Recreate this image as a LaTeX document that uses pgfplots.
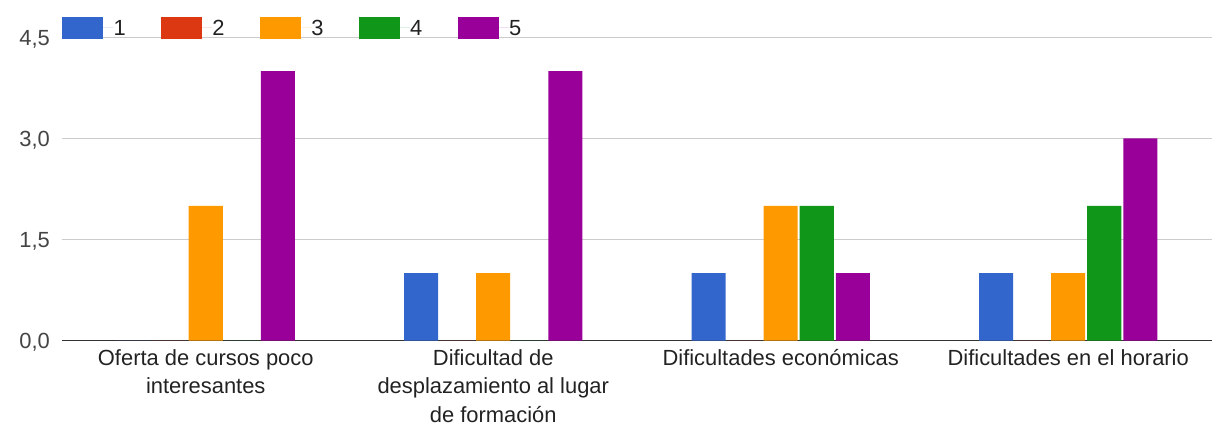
\documentclass[border=0pt]{standalone}
\usepackage{fontspec}
\setmainfont{Liberation Sans}
\usepackage{pgfplots}
\pgfplotsset{compat=1.18}
\definecolor{c1}{HTML}{3366CC}
\definecolor{c2}{HTML}{DC3912}
\definecolor{c3}{HTML}{FF9900}
\definecolor{c4}{HTML}{109618}
\definecolor{c5}{HTML}{990099}
\definecolor{ctext}{HTML}{222222}
\definecolor{ctick}{HTML}{444444}
\definecolor{cgrid}{HTML}{CCCCCC}
\definecolor{caxis}{HTML}{333333}
\begin{document}
\begin{tikzpicture}
\useasboundingbox (0,0) rectangle (1212bp,426bp);
\begin{axis}[
  at={(62bp,85.5bp)}, anchor=south west,
  scale only axis, width=1150bp, height=303bp,
  ybar=2bp, bar width=34bp,
  xmin=-0.5, xmax=3.5, ymin=0, ymax=4.5,
  xtick={0,1,2,3},
  xticklabels={{Oferta de cursos poco\\interesantes},{Dificultad de\\desplazamiento al lugar\\de formación},{Dificultades económicas},{Dificultades en el horario}},
  ytick={0,1.5,3,4.5},
  yticklabels={{0,0},{1,5},{3,0},{4,5}},
  xticklabel style={font=\fontsize{22}{29}\selectfont, align=center, text=ctext, inner sep=0pt, anchor=north, yshift=-8.5bp},
  yticklabel style={font=\fontsize{22}{29}\selectfont, text=ctick, inner sep=0pt, anchor=east, xshift=-12bp, text depth=0pt},
  major tick length=0pt,
  ymajorgrids, grid style={draw=cgrid, line width=1.3bp},
  axis line style={draw=none},
  extra y ticks={0}, extra y tick labels={},
  extra y tick style={grid style={draw=caxis, line width=1.4bp}},
  legend columns=5,
  legend cell align=left,
  legend style={draw=none, fill=none, inner sep=0pt, outer sep=0pt, column sep=0pt, row sep=0pt,
    at={(0,1)}, anchor=west, yshift=9.5bp, font=\fontsize{22}{29}\selectfont, text=ctext,
    nodes={inner sep=0pt, text height=15.8bp, text depth=0pt, anchor=west}},
  legend image code/.code={\path[#1] (0bp,-10.7bp) rectangle (41bp,10.7bp); \path (0bp,0bp) -- (51.5bp,0bp);},
]
\addplot[fill=c1, draw=none] coordinates {(0,0) (1,1) (2,1) (3,1)};
\addlegendentry{\makebox[47.4bp][l]{1}}
\addplot[fill=c2, draw=none] coordinates {(0,0) (1,0) (2,0) (3,0)};
\addlegendentry{\makebox[47.4bp][l]{2}}
\addplot[fill=c3, draw=none] coordinates {(0,2) (1,1) (2,2) (3,1)};
\addlegendentry{\makebox[47.4bp][l]{3}}
\addplot[fill=c4, draw=none] coordinates {(0,0) (1,0) (2,2) (3,2)};
\addlegendentry{\makebox[47.4bp][l]{4}}
\addplot[fill=c5, draw=none] coordinates {(0,4) (1,4) (2,1) (3,3)};
\addlegendentry{\makebox[47.4bp][l]{5}}
\end{axis}
\end{tikzpicture}
\end{document}
